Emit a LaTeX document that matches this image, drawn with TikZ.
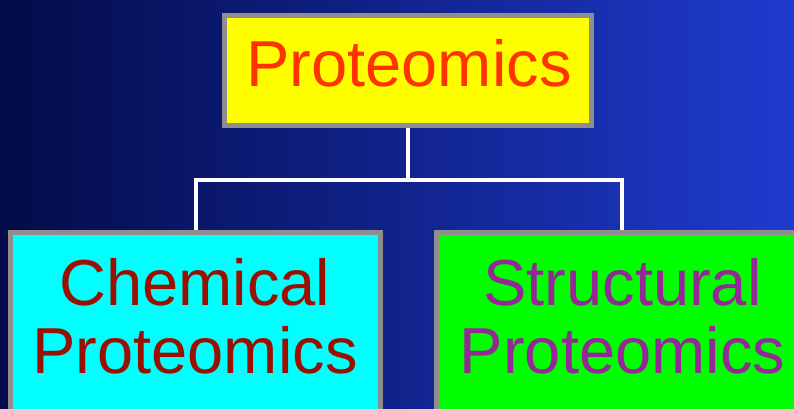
\documentclass[tikz,border=0pt]{standalone}
\usepackage{fontspec}
\setmainfont{Liberation Sans}
\definecolor{bgleft}{HTML}{030B48}
\definecolor{bgright}{HTML}{1F3BCF}
\definecolor{boxgray}{HTML}{8E8E8E}
\definecolor{topred}{HTML}{FF3300}
\definecolor{chemred}{HTML}{991100}
\definecolor{structpurple}{HTML}{942896}
\definecolor{boxyellow}{HTML}{FFFF00}
\definecolor{boxcyan}{HTML}{00FFFF}
\definecolor{boxgreen}{HTML}{00FF00}
\tikzset{
  boxnode/.style={draw=boxgray, line width=4.7pt, rectangle, inner sep=0pt},
  txtnode/.style={anchor=base, inner sep=0pt, font=\fontsize{65}{68}\selectfont},
  conn/.style={draw=white, line width=4pt}
}
\begin{document}
\begin{tikzpicture}[x=1pt, y=-1pt]
\useasboundingbox (0,0) rectangle (794,408);
\shade[left color=bgleft, right color=bgright] (0,0) rectangle (794,408);
% boxes
\node[boxnode, fill=boxyellow, minimum width=367.2pt, minimum height=110.2pt] (top) at (408,70.5) {};
\node[boxnode, fill=boxcyan, minimum width=370.3pt, minimum height=200pt] (left) at (195.5,332.4) {};
\node[boxnode, fill=boxgreen, minimum width=370.3pt, minimum height=200pt] (right) at (621.5,332.4) {};
% connectors
\coordinate (bus) at (0,179.5);
\draw[conn] (top.south) -- (top.south |- bus);
\draw[conn] (left.north) -- (left.north |- bus) -- (right.north |- bus) -- (right.north);
% texts
\node[txtnode, text=topred] (toptext) at (409,86.7) {Proteomics};
\node[txtnode, text=chemred] (lefttext1) at (195,305) {Chemical};
\node[txtnode, text=chemred] (lefttext2) at (195,373) {Proteomics};
\node[txtnode, text=structpurple] (righttext1) at (622.5,305) {Structural};
\node[txtnode, text=structpurple] (righttext2) at (622.5,373) {Proteomics};
\end{tikzpicture}
\end{document}
